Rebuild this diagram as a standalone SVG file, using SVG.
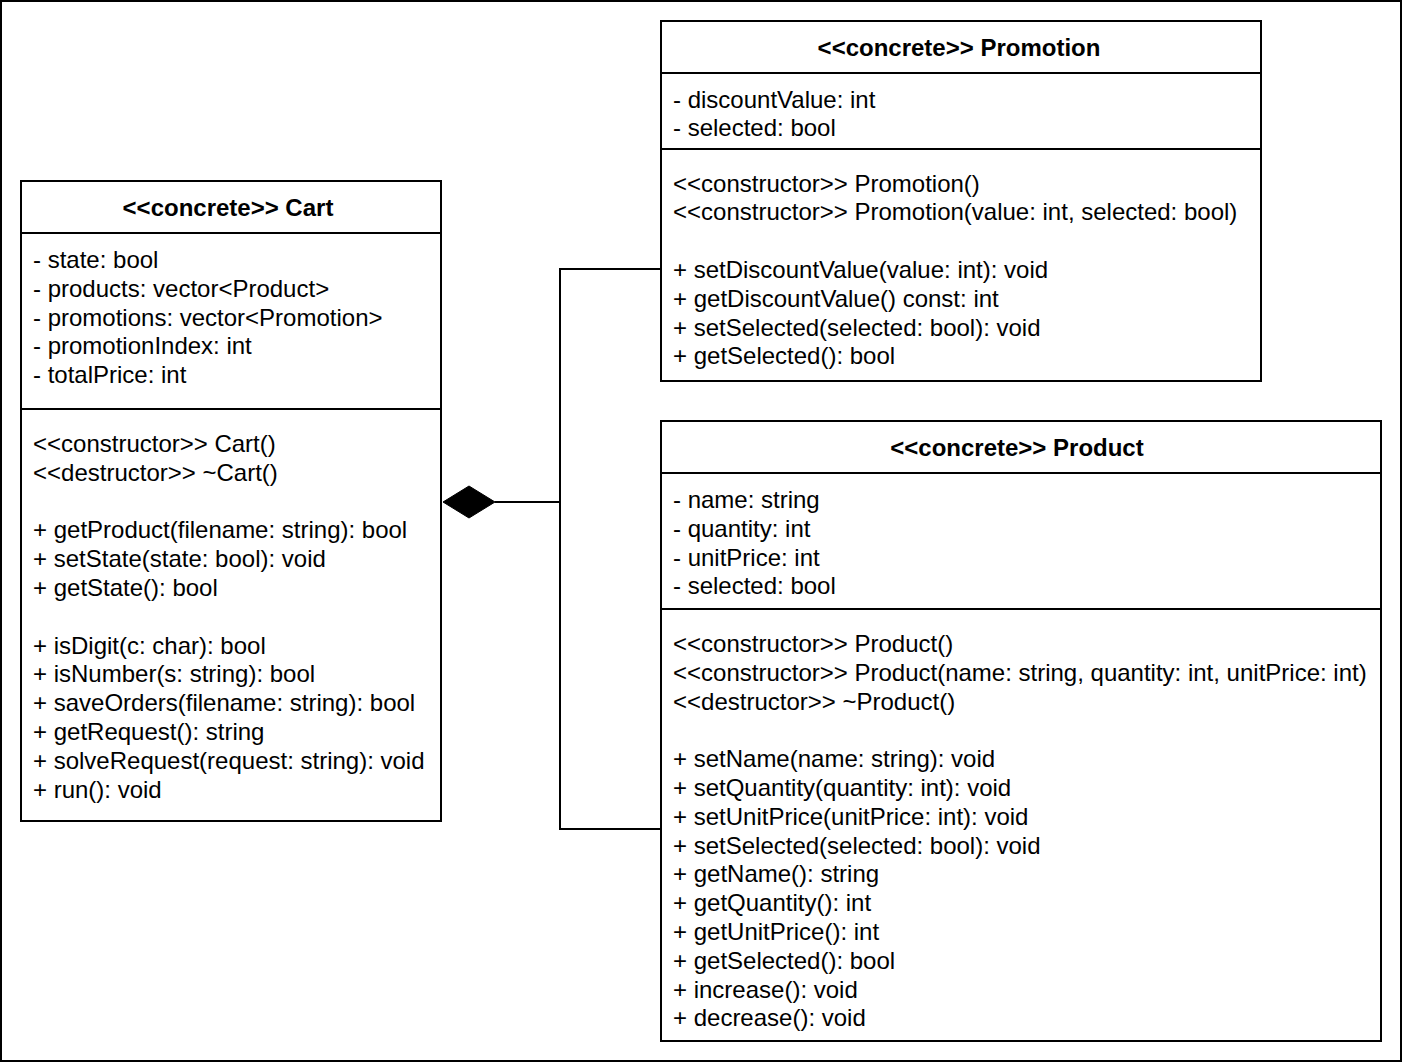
<svg xmlns="http://www.w3.org/2000/svg" width="1404" height="1064" viewBox="0 0 1404 1064">
<style>
.box{fill:#fff;stroke:#000;stroke-width:2}
.div{stroke:#000;stroke-width:2}
text{font-family:"Liberation Sans",Arial,sans-serif;font-size:24px;fill:#000}
.title{font-weight:bold;text-anchor:middle}
.conn{fill:none;stroke:#000;stroke-width:2}
</style>
<rect x="0" y="0" width="1404" height="1064" fill="#fff"/>
<rect x="1" y="1" width="1400" height="1060" fill="none" stroke="#000" stroke-width="2"/>
<g id="connectors">
<polyline class="conn" points="661,269 560,269 560,829 661,829"/>
<line class="conn" x1="495" y1="502" x2="560" y2="502"/>
<polygon points="443,502 469,486 495,502 469,518" fill="#000" stroke="#000" stroke-width="1"/>
</g>
<g id="cart">
<rect class="box" x="21" y="181" width="420" height="640"/>
<line class="div" x1="21" y1="233" x2="441" y2="233"/>
<line class="div" x1="21" y1="409" x2="441" y2="409"/>
<text class="title" x="228" y="216">&lt;&lt;concrete&gt;&gt; Cart</text>
<text x="33" y="268">- state: bool</text>
<text x="33" y="296.8">- products: vector&lt;Product&gt;</text>
<text x="33" y="325.6">- promotions: vector&lt;Promotion&gt;</text>
<text x="33" y="354.4">- promotionIndex: int</text>
<text x="33" y="383.2">- totalPrice: int</text>
<text x="33" y="452">&lt;&lt;constructor&gt;&gt; Cart()</text>
<text x="33" y="480.8">&lt;&lt;destructor&gt;&gt; ~Cart()</text>
<text x="33" y="538.4">+ getProduct(filename: string): bool</text>
<text x="33" y="567.2">+ setState(state: bool): void</text>
<text x="33" y="596">+ getState(): bool</text>
<text x="33" y="653.6">+ isDigit(c: char): bool</text>
<text x="33" y="682.4">+ isNumber(s: string): bool</text>
<text x="33" y="711.2">+ saveOrders(filename: string): bool</text>
<text x="33" y="740">+ getRequest(): string</text>
<text x="33" y="768.8">+ solveRequest(request: string): void</text>
<text x="33" y="797.6">+ run(): void</text>
</g>
<g id="promotion">
<rect class="box" x="661" y="21" width="600" height="360"/>
<line class="div" x1="661" y1="73" x2="1261" y2="73"/>
<line class="div" x1="661" y1="149" x2="1261" y2="149"/>
<text class="title" x="959" y="56">&lt;&lt;concrete&gt;&gt; Promotion</text>
<text x="673" y="107.5">- discountValue: int</text>
<text x="673" y="136.3">- selected: bool</text>
<text x="673" y="191.5">&lt;&lt;constructor&gt;&gt; Promotion()</text>
<text x="673" y="220.3">&lt;&lt;constructor&gt;&gt; Promotion(value: int, selected: bool)</text>
<text x="673" y="277.9">+ setDiscountValue(value: int): void</text>
<text x="673" y="306.7">+ getDiscountValue() const: int</text>
<text x="673" y="335.5">+ setSelected(selected: bool): void</text>
<text x="673" y="364.3">+ getSelected(): bool</text>
</g>
<g id="product">
<rect class="box" x="661" y="421" width="720" height="620"/>
<line class="div" x1="661" y1="473" x2="1381" y2="473"/>
<line class="div" x1="661" y1="609" x2="1381" y2="609"/>
<text class="title" x="1017" y="456">&lt;&lt;concrete&gt;&gt; Product</text>
<text x="673" y="508">- name: string</text>
<text x="673" y="536.8">- quantity: int</text>
<text x="673" y="565.6">- unitPrice: int</text>
<text x="673" y="594.4">- selected: bool</text>
<text x="673" y="652">&lt;&lt;constructor&gt;&gt; Product()</text>
<text x="673" y="680.8">&lt;&lt;constructor&gt;&gt; Product(name: string, quantity: int, unitPrice: int)</text>
<text x="673" y="709.6">&lt;&lt;destructor&gt;&gt; ~Product()</text>
<text x="673" y="767.2">+ setName(name: string): void</text>
<text x="673" y="796">+ setQuantity(quantity: int): void</text>
<text x="673" y="824.8">+ setUnitPrice(unitPrice: int): void</text>
<text x="673" y="853.6">+ setSelected(selected: bool): void</text>
<text x="673" y="882.4">+ getName(): string</text>
<text x="673" y="911.2">+ getQuantity(): int</text>
<text x="673" y="940">+ getUnitPrice(): int</text>
<text x="673" y="968.8">+ getSelected(): bool</text>
<text x="673" y="997.6">+ increase(): void</text>
<text x="673" y="1026.4">+ decrease(): void</text>
</g>
</svg>
